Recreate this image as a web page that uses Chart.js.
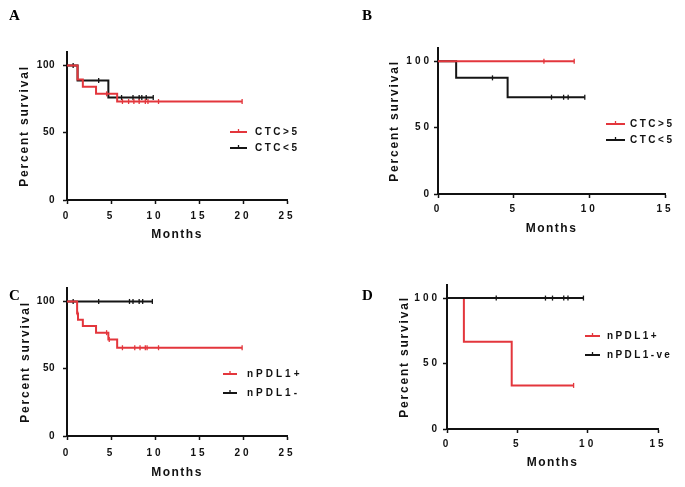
<!DOCTYPE html>
<html><head><meta charset="utf-8">
<script src="https://cdn.jsdelivr.net/npm/chart.js@4/dist/chart.umd.min.js"></script>
<style>
html,body{margin:0;padding:0;background:#fff;}
#wrap{position:relative;width:685px;height:487px;overflow:hidden;background:#fff;}
canvas{position:absolute;left:0;top:0;}
.lbl{position:absolute;font-family:"Liberation Serif","Times New Roman",serif;font-weight:bold;font-size:15px;line-height:15px;color:#000;}
</style></head><body>
<div id="wrap">
<canvas id="cA" width="685" height="487"></canvas>
<canvas id="cB" width="685" height="487"></canvas>
<canvas id="cC" width="685" height="487"></canvas>
<canvas id="cD" width="685" height="487"></canvas>
<div class="lbl" style="left:9px;top:8px">A</div>
<div class="lbl" style="left:362px;top:8px">B</div>
<div class="lbl" style="left:9px;top:288px">C</div>
<div class="lbl" style="left:362px;top:288px">D</div>
</div>
<script>
// ---- tick labels ----
const yTickValues = [0, 50, 100];
const xTicksLong = [0, 5, 10, 15, 20, 25];
const xTicksShort = [0, 5, 10, 15];

// ---- Panel A: CTC>5 vs CTC<5 (all) ----
const aHighTimes = [0, 1.2, 1.8, 3.3, 5.7, 19.9];
const aHighSurv = [100, 89.5, 84.2, 78.9, 73.2, 73.2];
const aHighCensor = [4.5, 6.3, 7.0, 7.6, 8.2, 8.9, 9.2, 10.4, 19.9];
const aLowTimes = [0, 1.2, 4.7, 9.8];
const aLowSurv = [100, 88.9, 76.2, 76.2];
const aLowCensor = [0.7, 3.6, 6.2, 7.5, 8.2, 8.5, 9.0, 9.8];

// ---- Panel B: CTC>5 vs CTC<5 ----
const bHighTimes = [0, 9.0];
const bHighSurv = [100, 100];
const bHighCensor = [7.0, 9.0];
const bLowTimes = [0, 1.2, 4.6, 9.7];
const bLowSurv = [100, 87.5, 72.9, 72.9];
const bLowCensor = [3.6, 7.5, 8.3, 8.6, 9.7];

// ---- Panel C: nPDL1+ vs nPDL1- ----
const cPosTimes = [0, 1.15, 1.25, 1.8, 3.3, 4.7, 5.7, 19.9];
const cPosSurv = [100, 91.0, 86.4, 81.8, 76.8, 71.8, 65.6, 65.6];
const cPosCensor = [1.2, 4.5, 4.8, 6.3, 7.7, 8.3, 8.9, 9.1, 10.4, 19.9];
const cNegTimes = [0, 9.7];
const cNegSurv = [100, 100];
const cNegCensor = [0.7, 3.6, 7.1, 7.5, 8.2, 8.6, 9.7];

// ---- Panel D: nPDL1+ vs nPDL1-ve ----
const dPosTimes = [0, 1.2, 4.6, 9.0];
const dPosSurv = [100, 66.7, 33.3, 33.3];
const dPosCensor = [9.0];
const dNegTimes = [0, 9.7];
const dNegSurv = [100, 100];
const dNegCensor = [3.5, 7.0, 7.5, 8.3, 8.6, 9.7];

const RED = '#e3363c';
const BLACK = '#151515';
const FONT = '"Liberation Sans", Arial, Helvetica, sans-serif';

function survAt(times, surv, t) {
  let v = surv[0];
  for (let i = 0; i < times.length; i++) if (times[i] <= t) v = surv[i];
  return v;
}

function seriesSets(s) {
  return [
    { data: s.times.map((t, i) => ({x: t, y: s.surv[i]})), showLine: true, stepped: 'before',
      borderColor: s.color, borderWidth: 2, pointRadius: 0, pointHoverRadius: 0, fill: false },
    { data: s.censor.map(t => ({x: t, y: survAt(s.times, s.surv, t)})), showLine: false,
      pointStyle: 'line', rotation: 90, pointRadius: 2.5, pointHoverRadius: 0,
      borderColor: s.color, borderWidth: 1.3, pointBorderColor: s.color }
  ];
}

const spacingPlugin = {
  id: 'spacing',
  beforeDraw(chart, args, opts) {
    Object.values(chart.scales).forEach(sc => {
      if (sc._patched) return;
      sc._patched = true;
      const sp = opts[sc.id] || {};
      const dl = sc.drawLabels.bind(sc), dt = sc.drawTitle.bind(sc);
      sc.drawLabels = function (a) { const c = this.ctx; c.save(); c.letterSpacing = (sp.ticks || 0) + 'px'; dl(a); c.restore(); };
      sc.drawTitle = function (a) { const c = this.ctx; c.save(); c.letterSpacing = (sp.title || 0) + 'px'; dt(a); c.restore(); };
    });
  }
};

const legendPlugin = {
  id: 'kmLegend',
  afterDraw(chart, args, opts) {
    const ctx = chart.ctx;
    (opts.items || []).forEach(it => {
      ctx.save();
      ctx.strokeStyle = it.color;
      ctx.lineWidth = 2;
      ctx.beginPath(); ctx.moveTo(it.x1, it.y); ctx.lineTo(it.x2, it.y); ctx.stroke();
      ctx.lineWidth = 1.3;
      const mx = (it.x1 + it.x2) / 2;
      ctx.beginPath(); ctx.moveTo(mx, it.y - 3); ctx.lineTo(mx, it.y + 1); ctx.stroke();
      ctx.fillStyle = '#111';
      ctx.font = 'bold 10px ' + FONT;
      ctx.letterSpacing = (opts.spacing || 2.5) + 'px';
      ctx.textBaseline = 'middle';
      ctx.textAlign = 'left';
      ctx.fillText(it.text, it.tx, it.y + 0.5);
      ctx.restore();
    });
  }
};

function makePanel(id, p) {
  const W = p.L - p.titleX + 7.2;
  const H = p.titleY + 7.2 - p.B;
  const datasets = [];
  p.series.forEach(s => datasets.push(...seriesSets(s)));
  new Chart(document.getElementById(id), {
    type: 'scatter',
    data: { datasets },
    plugins: [spacingPlugin, legendPlugin],
    options: {
      responsive: false, animation: false, devicePixelRatio: 1, events: [],
      layout: { padding: { left: p.L - W, top: p.T, right: 685 - p.R, bottom: 487 - p.B - H } },
      plugins: {
        legend: { display: false }, tooltip: { enabled: false },
        spacing: { x: { ticks: p.xSp, title: 1.5 }, y: { ticks: p.ySp, title: 1.8 } },
        kmLegend: { items: p.legend, spacing: p.legSp }
      },
      scales: {
        x: {
          type: 'linear', min: 0, max: p.xMax,
          afterBuildTicks: sc => { sc.ticks = p.xTicks.map(v => ({value: v})); },
          afterFit: sc => { sc.height = H; },
          ticks: { color: '#111', font: { family: FONT, size: 10, weight: 'bold' }, padding: p.xPad, maxRotation: 0, autoSkip: false },
          grid: { display: true, drawOnChartArea: false, drawTicks: true, tickLength: 4, tickWidth: 1.5, tickColor: '#111' },
          border: { display: true, color: '#111', width: 2 },
          title: { display: true, text: 'Months', color: '#111', font: { family: FONT, size: 12, weight: 'bold' }, padding: 0 }
        },
        y: {
          type: 'linear', min: 0, max: 110,
          afterBuildTicks: sc => { sc.ticks = yTickValues.map(v => ({value: v})); },
          afterFit: sc => { sc.width = W; },
          ticks: { color: '#111', font: { family: FONT, size: 10, weight: 'bold' }, padding: p.yPad },
          grid: { display: true, drawOnChartArea: false, drawTicks: true, tickLength: 4, tickWidth: 1.5, tickColor: '#111' },
          border: { display: true, color: '#111', width: 2 },
          title: { display: true, text: 'Percent survival', color: '#111', font: { family: FONT, size: 12, weight: 'bold' }, padding: 0 }
        }
      }
    }
  });
}

makePanel('cA', {
  L: 67, R: 287, T: 52, B: 200, titleX: 25, titleY: 235, xMax: 25, xTicks: xTicksLong,
  xPad: 6, yPad: 8, xSp: 3, ySp: 0.5, legSp: 2.5,
  series: [
    { times: aHighTimes, surv: aHighSurv, censor: aHighCensor, color: RED },
    { times: aLowTimes, surv: aLowSurv, censor: aLowCensor, color: BLACK }
  ],
  legend: [
    { color: RED, x1: 230, x2: 247, y: 132, tx: 255, text: 'CTC>5' },
    { color: BLACK, x1: 230, x2: 247, y: 148, tx: 255, text: 'CTC<5' }
  ]
});
makePanel('cB', {
  L: 438, R: 665, T: 48, B: 194, titleX: 395, titleY: 229, xMax: 15, xTicks: xTicksShort,
  xPad: 5, yPad: 2, xSp: 3, ySp: 3, legSp: 2.5,
  series: [
    { times: bHighTimes, surv: bHighSurv, censor: bHighCensor, color: RED },
    { times: bLowTimes, surv: bLowSurv, censor: bLowCensor, color: BLACK }
  ],
  legend: [
    { color: RED, x1: 606, x2: 625, y: 124, tx: 630, text: 'CTC>5' },
    { color: BLACK, x1: 606, x2: 625, y: 140, tx: 630, text: 'CTC<5' }
  ]
});
makePanel('cC', {
  L: 67, R: 287, T: 288, B: 436, titleX: 26, titleY: 473, xMax: 25, xTicks: xTicksLong,
  xPad: 7, yPad: 8, xSp: 3, ySp: 0.5, legSp: 3,
  series: [
    { times: cPosTimes, surv: cPosSurv, censor: cPosCensor, color: RED },
    { times: cNegTimes, surv: cNegSurv, censor: cNegCensor, color: BLACK }
  ],
  legend: [
    { color: RED, x1: 223, x2: 237, y: 374, tx: 247, text: 'nPDL1+' },
    { color: BLACK, x1: 223, x2: 237, y: 393, tx: 247, text: 'nPDL1-' }
  ]
});
makePanel('cD', {
  L: 447, R: 658, T: 285, B: 429, titleX: 405, titleY: 463, xMax: 15, xTicks: xTicksShort,
  xPad: 5, yPad: 3, xSp: 3, ySp: 3, legSp: 2.4,
  series: [
    { times: dNegTimes, surv: dNegSurv, censor: dNegCensor, color: BLACK },
    { times: dPosTimes, surv: dPosSurv, censor: dPosCensor, color: RED }
  ],
  legend: [
    { color: RED, x1: 585, x2: 600, y: 336, tx: 607, text: 'nPDL1+' },
    { color: BLACK, x1: 585, x2: 600, y: 355, tx: 607, text: 'nPDL1-ve' }
  ]
});
</script>
</body></html>
